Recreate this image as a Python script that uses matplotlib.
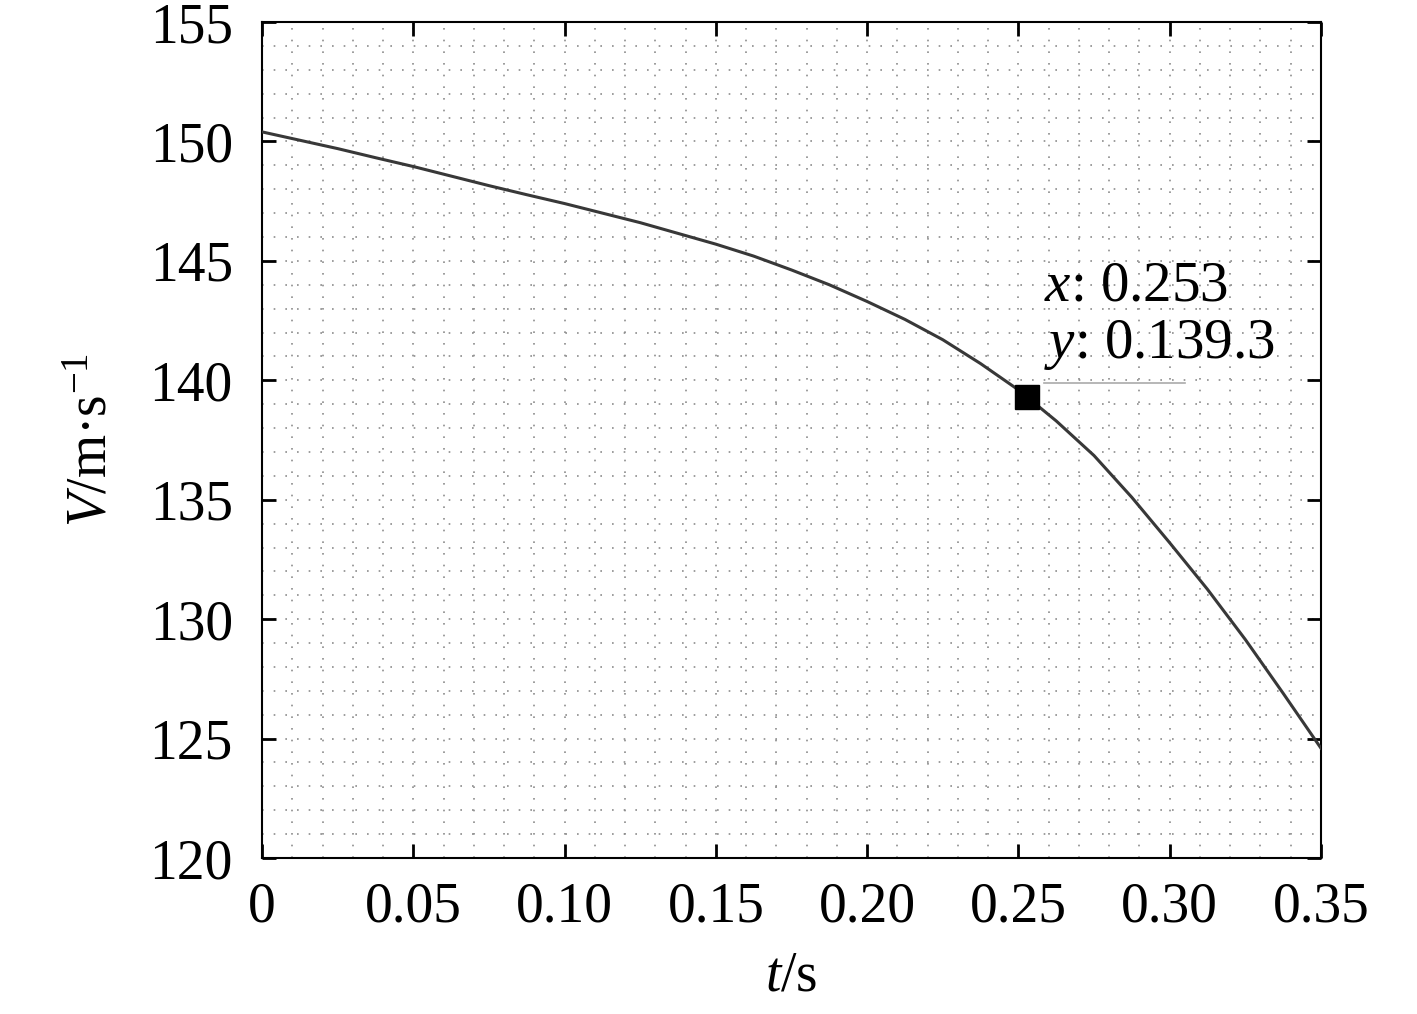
import numpy as np
from matplotlib import pyplot as plt
from matplotlib.ticker import MultipleLocator, FixedLocator

plt.rcParams['font.family'] = ['Liberation Serif', 'DejaVu Serif']
plt.rcParams['mathtext.fontset'] = 'custom'
plt.rcParams['mathtext.rm'] = 'Liberation Serif'
plt.rcParams['mathtext.it'] = 'Liberation Serif:italic'

# curve
t = [0.0, 0.0125, 0.025, 0.0375, 0.05, 0.0625, 0.075, 0.0875, 0.10,
     0.1125, 0.125, 0.1375, 0.15, 0.1625, 0.175, 0.1875, 0.20, 0.2125,
     0.225, 0.2375, 0.25, 0.2625, 0.275, 0.2875, 0.30, 0.3125, 0.325,
     0.3375, 0.35]
v = [150.4, 150.05, 149.7, 149.32, 148.95, 148.55, 148.15, 147.77, 147.4,
     147.0, 146.6, 146.15, 145.7, 145.2, 144.62, 144.0, 143.3, 142.55,
     141.7, 140.7, 139.6, 138.3, 136.85, 135.1, 133.2, 131.25, 129.15,
     126.9, 124.6]

mark_x = 0.253
mark_y = 139.3
tick_vals = [0, 0.05, 0.10, 0.15, 0.20, 0.25, 0.30, 0.35]
tick_labels = ["0", "0.05", "0.10", "0.15", "0.20", "0.25", "0.30", "0.35"]


def main():
    fig = plt.figure(figsize=(14.17, 10.14), dpi=100)
    ax = fig.add_axes([0.1849, 0.1538, 0.7473, 0.8245])

    ax.plot(t, v, color="#383838", lw=2.2, zorder=3)
    ax.plot([mark_x], [mark_y], marker="s", ms=17, color="black", zorder=4)
    ax.plot([0.2585, 0.305], [139.9, 139.9], color="#aaaaaa", lw=1.2,
            zorder=3)
    ax.text(0.2585, 143.35, "$x$: 0.253", fontsize=41, zorder=5)
    ax.text(0.2585, 140.95, "$y$: 0.139.3", fontsize=41, zorder=5)

    ax.set_xlim(0, 0.35)
    ax.set_ylim(120, 155)
    ax.xaxis.set_major_locator(FixedLocator(tick_vals))
    ax.set_xticklabels(tick_labels)
    ax.yaxis.set_major_locator(MultipleLocator(5))
    ax.xaxis.set_minor_locator(MultipleLocator(0.01))
    ax.yaxis.set_minor_locator(MultipleLocator(1))

    ax.grid(which="both", color="#8c8c8c", lw=1.2, linestyle=(0, (1, 6)))
    ax.tick_params(which="major", direction="in", length=10, width=2,
                   top=True, right=True, labelsize=40)
    ax.tick_params(axis="y", pad=21)
    ax.tick_params(axis="x", pad=17)
    ax.tick_params(which="minor", length=0)
    for s in ax.spines.values():
        s.set_linewidth(1.5)

    ax.set_xlabel("$t$/s", fontsize=40, labelpad=12)
    ax.set_ylabel("$V$/m·s$^{-1}$", fontsize=40, labelpad=22)

    fig.savefig("out.png", dpi=100)
    plt.close(fig)


if __name__ == "__main__":
    main()
